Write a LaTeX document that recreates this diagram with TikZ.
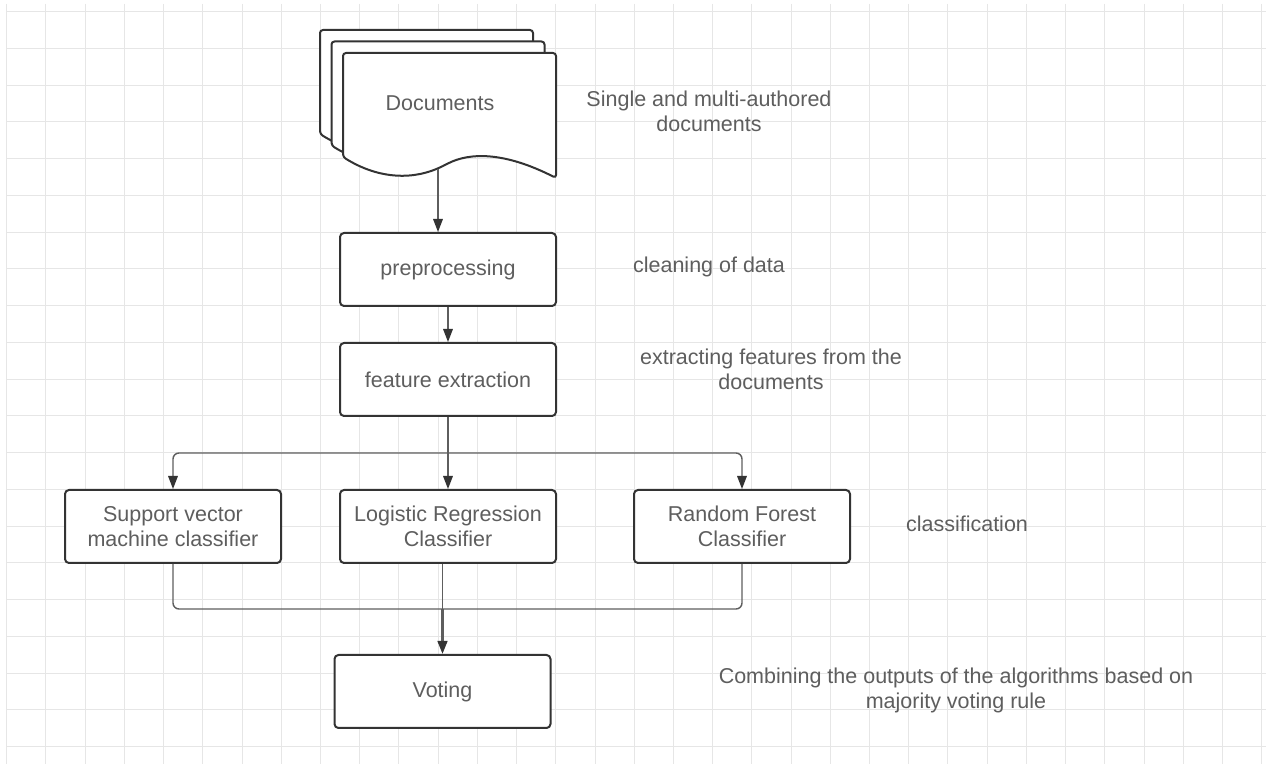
\documentclass[tikz,border=0pt]{standalone}
\usepackage{fontspec}
\setmainfont{Liberation Sans}
\usetikzlibrary{arrows.meta}
\definecolor{gridc}{HTML}{E6E6E6}
\definecolor{inkc}{HTML}{333333}
\definecolor{txtc}{HTML}{5E5E5E}
\definecolor{wirec}{HTML}{5E5E5E}
\newcommand\diafont{\fontsize{10.75}{12.5}\selectfont}

\begin{document}
\begin{tikzpicture}[x=0.5pt,y=-0.5pt,
  gridline/.style={draw=gridc, line width=0.5pt},
  box/.style={draw=inkc, line width=1pt, rounded corners=2pt, fill=white,
    minimum width=108pt, minimum height=36.5pt, inner sep=0pt,
    align=center, text=txtc, font=\diafont},
  note/.style={align=center, text=txtc, font=\diafont, inner sep=0pt},
  page/.style={draw=inkc, line width=1pt, fill=white, rounded corners=1.5pt},
  wire/.style={draw=wirec, line width=0.7pt},
  arrowed/.style={-{Triangle[length=6.5pt,width=4.8pt,color=inkc]}},
]
\useasboundingbox (0,0) rectangle (1266,764);
\fill[white] (0,0) rectangle (1266,764);

% background grid
\foreach \k in {0,...,32}
  \draw[gridline] ({6.7+39.22*\k},4) -- ({6.7+39.22*\k},764);
\foreach \k in {0,...,20}
  \draw[gridline] (7,{11.7+36.75*\k}) -- (1266,{11.7+36.75*\k});

% stacked document pages, back to front
\foreach \d in {23,11.5,0} {
  \begin{scope}[shift={(-\d,-\d)}]
    \path[page] (343,157) -- (343,53) -- (556,53) -- (556,178)
      .. controls (505,152) and (470,152) .. (445,165)
      .. controls (415,180) and (380,180) .. (343,157) -- cycle;
  \end{scope}
}
\node[note] (docs) at (440,103) {Documents};
\coordinate (docout) at (438,169);

% process boxes
\node[box] (pre)  at (448,269.5) {preprocessing};
\node[box] (feat) at (448,379.5) {feature extraction};
\node[box] (svm)  at (173,526.5) {Support vector\\machine classifier};
\node[box] (lr)   at (448,526.5) {Logistic Regression\\Classifier};
\node[box] (rf)   at (742,526.5) {Random Forest\\Classifier};
\node[box] (vote) at (442.5,691.5) {Voting};

% side notes
\node[note] (n1) at (709,111) {Single and multi-authored\\documents};
\node[note] (n2) at (709,267) {cleaning of data};
\node[note] (n3) at (771,369) {extracting features from the\\documents};
\node[note] (n4) at (967,524) {classification};
\node[note] (n5) at (956,690) {Combining the outputs of the algorithms based on\\majority voting rule};

% connectors
\draw[wire,arrowed] (docout) -- (docout |- pre.north);
\draw[wire,arrowed] (pre.south) -- (feat.north);

\coordinate (split) at (448,453);
\draw[wire] (feat.south) -- (split);
\draw[wire,arrowed,rounded corners=3pt] (split) -| (svm.north);
\draw[wire,arrowed,rounded corners=3pt] (split) -| (rf.north);
\draw[wire,arrowed] (split) -- (lr.north);

\coordinate (merge) at (442.5,609);
\draw[wire,rounded corners=3pt] (svm.south) |- (merge);
\draw[wire,rounded corners=3pt] (rf.south) |- (merge);
\draw[wire] (lr.south -| merge) -- (merge);
\draw[wire,line width=1.2pt,arrowed] (merge) -- (vote.north);
\end{tikzpicture}
\end{document}
